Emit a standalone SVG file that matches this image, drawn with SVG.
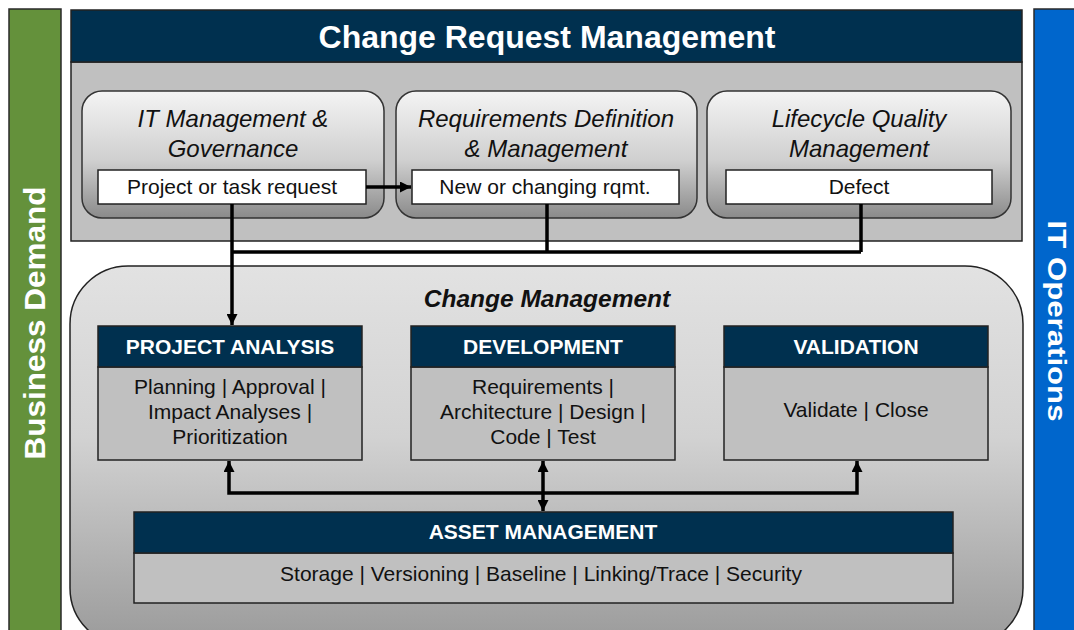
<svg xmlns="http://www.w3.org/2000/svg" width="1074" height="630" viewBox="0 0 1074 630">
<defs>
<linearGradient id="gTop" x1="0" y1="0" x2="0" y2="1">
<stop offset="0" stop-color="#f4f4f4"/>
<stop offset="0.55" stop-color="#cfcfcf"/>
<stop offset="1" stop-color="#8a8a8a"/>
</linearGradient>
<linearGradient id="gBig" x1="0" y1="0" x2="0" y2="1">
<stop offset="0" stop-color="#e2e2e2"/>
<stop offset="0.45" stop-color="#d2d2d2"/>
<stop offset="1" stop-color="#9a9a9a"/>
</linearGradient>
<marker id="ah" viewBox="0 0 10 10" refX="10" refY="5" markerWidth="11" markerHeight="11" markerUnits="userSpaceOnUse" orient="auto-start-reverse">
<path d="M0,0 L10,5 L0,10 z" fill="#000"/>
</marker>
<style>
.sans{font-family:"Liberation Sans",Arial,sans-serif}
.hdr{fill:#00304f;stroke:#222;stroke-width:1.5}
.body{fill:#c0c0c0;stroke:#222;stroke-width:1.5}
.ttl{font-family:"Liberation Sans",Arial,sans-serif;font-style:italic;font-size:24px;fill:#111;text-anchor:middle}
.lbl{font-family:"Liberation Sans",Arial,sans-serif;font-size:21px;fill:#111;text-anchor:middle}
.hd{font-family:"Liberation Sans",Arial,sans-serif;font-weight:bold;font-size:21px;fill:#fff;text-anchor:middle}
.conn{fill:none;stroke:#000;stroke-width:3.5}
</style>
</defs>
<rect width="1074" height="630" fill="#fff"/>

<g id="business-demand">
<rect x="9" y="9" width="52" height="630" fill="#64913b" stroke="#2a2a2a" stroke-width="1.5"/>
<text class="sans" transform="translate(45,323) rotate(-90)" font-size="30" font-weight="bold" fill="#fff" text-anchor="middle" textLength="273" lengthAdjust="spacingAndGlyphs">Business Demand</text>
</g>

<g id="it-operations">
<rect x="1034" y="9" width="50" height="630" fill="#0066cc" stroke="#2a2a2a" stroke-width="1.5"/>
<text class="sans" transform="translate(1048,321) rotate(90)" font-size="25" font-weight="bold" fill="#fff" text-anchor="middle" textLength="201" lengthAdjust="spacingAndGlyphs">IT Operations</text>
</g>

<g id="change-request-management">
<rect x="71" y="62" width="951" height="179" fill="#c0c0c0" stroke="#222" stroke-width="1.5"/>
<rect x="71" y="10" width="951" height="52" class="hdr"/>
<text class="sans" x="547" y="48" font-size="32" font-weight="bold" fill="#fff" text-anchor="middle">Change Request Management</text>
</g>

<g id="it-management">
<rect x="82" y="91" width="302" height="127" rx="20" fill="url(#gTop)" stroke="#333" stroke-width="1.5"/>
<text class="ttl" x="233" y="127">IT Management &amp;</text>
<text class="ttl" x="233" y="157">Governance</text>
<rect x="98" y="170" width="268" height="34" fill="#fff" stroke="#222" stroke-width="1.5"/>
<text class="lbl" x="232" y="194">Project or task request</text>
</g>

<g id="requirements">
<rect x="396" y="91" width="301" height="127" rx="20" fill="url(#gTop)" stroke="#333" stroke-width="1.5"/>
<text class="ttl" x="546" y="127">Requirements Definition</text>
<text class="ttl" x="546" y="157">&amp; Management</text>
<rect x="412" y="170" width="267" height="34" fill="#fff" stroke="#222" stroke-width="1.5"/>
<text class="lbl" x="545" y="194">New or changing rqmt.</text>
</g>

<g id="quality">
<rect x="707" y="91" width="304" height="127" rx="20" fill="url(#gTop)" stroke="#333" stroke-width="1.5"/>
<text class="ttl" x="859" y="127">Lifecycle Quality</text>
<text class="ttl" x="859" y="157">Management</text>
<rect x="726" y="170" width="266" height="34" fill="#fff" stroke="#222" stroke-width="1.5"/>
<text class="lbl" x="859" y="194">Defect</text>
</g>

<g id="change-management">
<rect x="70" y="266" width="953" height="380" rx="58" fill="url(#gBig)" stroke="#222" stroke-width="1.5"/>
<text class="sans" x="547" y="307" font-size="24.5" font-weight="bold" font-style="italic" fill="#111" text-anchor="middle">Change Management</text>
</g>

<g id="project-analysis">
<rect x="98" y="367" width="264" height="93" class="body"/>
<rect x="98" y="326" width="264" height="41" class="hdr"/>
<text class="hd" x="230" y="354">PROJECT ANALYSIS</text>
<text class="lbl" x="230" y="394">Planning | Approval |</text>
<text class="lbl" x="230" y="419">Impact Analyses |</text>
<text class="lbl" x="230" y="444">Prioritization</text>
</g>

<g id="development">
<rect x="411" y="367" width="264" height="93" class="body"/>
<rect x="411" y="326" width="264" height="41" class="hdr"/>
<text class="hd" x="543" y="354">DEVELOPMENT</text>
<text class="lbl" x="543" y="394">Requirements |</text>
<text class="lbl" x="543" y="419">Architecture | Design |</text>
<text class="lbl" x="543" y="444">Code | Test</text>
</g>

<g id="validation">
<rect x="724" y="367" width="264" height="93" class="body"/>
<rect x="724" y="326" width="264" height="41" class="hdr"/>
<text class="hd" x="856" y="354">VALIDATION</text>
<text class="lbl" x="856" y="417">Validate | Close</text>
</g>

<g id="asset-management">
<rect x="134" y="553" width="819" height="50" class="body"/>
<rect x="134" y="512" width="819" height="41" class="hdr"/>
<text class="hd" x="543" y="539">ASSET MANAGEMENT</text>
<text class="lbl" x="541" y="581">Storage | Versioning | Baseline | Linking/Trace | Security</text>
</g>

<g id="connectors">
<path class="conn" d="M366,187 H411" marker-end="url(#ah)"/>
<path class="conn" d="M232,204 V325" marker-end="url(#ah)"/>
<path class="conn" d="M232,252 H861 M547,204 V252 M861,204 V252"/>
<path class="conn" d="M229,461 V493 H857 V461" marker-start="url(#ah)" marker-end="url(#ah)"/>
<path class="conn" d="M543,461 V511" marker-start="url(#ah)" marker-end="url(#ah)"/>
</g>
</svg>
